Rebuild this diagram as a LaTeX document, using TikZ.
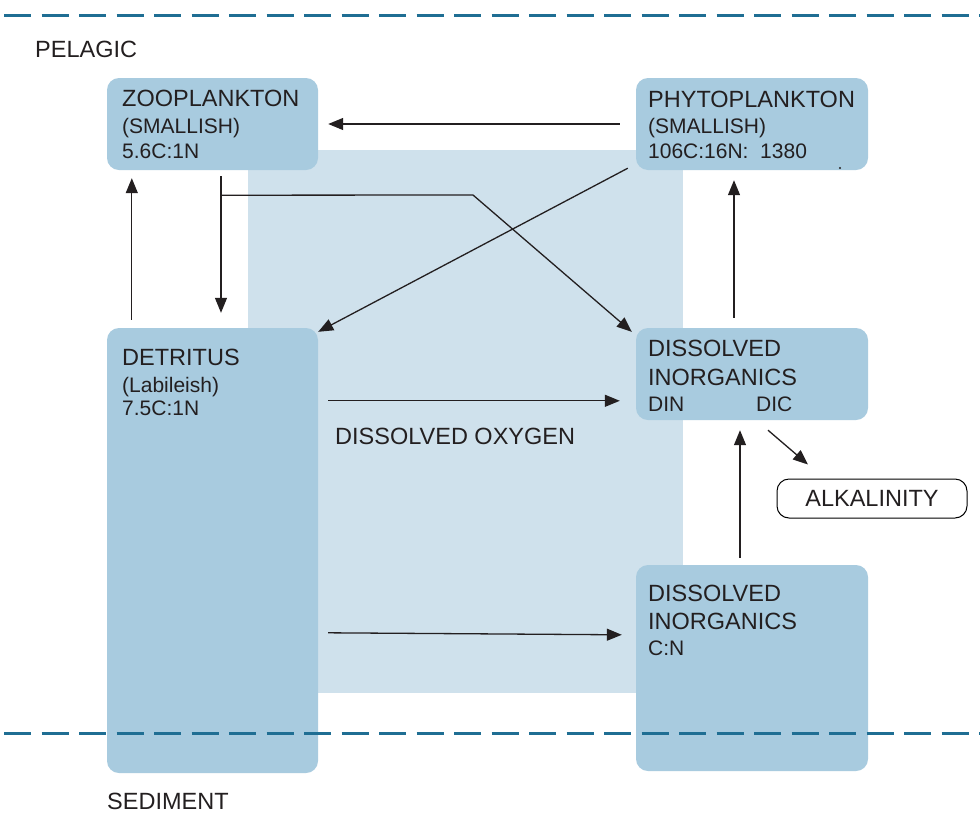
\documentclass[tikz,border=0pt]{standalone}
\usepackage{fontspec}
\setmainfont{Liberation Sans}
\usetikzlibrary{arrows.meta}
\definecolor{boxblue}{HTML}{A8CBDF}
\definecolor{paleblue}{HTML}{CFE1EC}
\definecolor{layerline}{HTML}{1F6E93}
\definecolor{inktext}{HTML}{231F20}
\begin{document}
\begin{tikzpicture}[x=1pt,y=-1pt,
  pool/.style={draw=none,fill=boxblue,rounded corners=12pt,inner sep=0pt},
  outline/.style={draw=black,line width=1pt,fill=white,rounded corners=12pt,inner sep=0pt},
  title/.style={anchor=base west,inner sep=0pt,text=inktext,font=\fontsize{23.5}{28}\selectfont},
  sub/.style={anchor=base west,inner sep=0pt,text=inktext,font=\fontsize{21}{25}\selectfont},
  flow/.style={draw=inktext,line width=1.3pt,-{Triangle[length=15pt,width=12pt]}},
  layer/.style={draw=layerline,line width=3pt,dash pattern=on 27pt off 10.5pt}]
\useasboundingbox (0,0) rectangle (980,812);
\fill[white] (0,0) rectangle (980,812);

% water column backdrop
\fill[paleblue] (248,150) rectangle (683,693);

% compartments
\node[pool,minimum width=211pt,minimum height=92pt] (zoo) at (212.5,124) {};
\node[pool,minimum width=232pt,minimum height=92pt] (phyto) at (752,124) {};
\node[pool,minimum width=211pt,minimum height=445pt] (det) at (212.5,550.5) {};
\node[pool,minimum width=232pt,minimum height=92pt] (dinTop) at (752,374) {};
\node[pool,minimum width=232pt,minimum height=206pt] (dinBot) at (752,668) {};
\node[outline,minimum width=190pt,minimum height=39pt,font=\fontsize{23.5}{28}\selectfont,text=inktext] (alk) at (872,498.5) {ALKALINITY};

% layer boundaries
\draw[layer,dash phase=-4pt] (0,15) -- (980,15);
\draw[layer,dash phase=-4pt] (0,733) -- (980,733);

% labels
\node[title] (pel) at (35,57) {PELAGIC};
\node[title] (sed) at (107,809) {SEDIMENT};
\node[title] (oxy) at (335,444) {DISSOLVED OXYGEN};

\node[title] (zooA) at (122,106) {ZOOPLANKTON};
\node[sub] (zooB) at (122,133) {(SMALLISH)};
\node[sub] (zooC) at (122,158) {5.6C:1N};

\node[title] (phyA) at (648,107) {PHYTOPLANKTON};
\node[sub] (phyB) at (648,133) {(SMALLISH)};
\node[sub] (phyC) at (648,158) {106C:16N:\ \ 1380};
\fill[inktext] (840,168) circle (1.1pt);

\node[title] (detA) at (122,365) {DETRITUS};
\node[sub] (detB) at (122,392) {(Labileish)};
\node[sub] (detC) at (122,415) {7.5C:1N};

\node[title] (dtA) at (648,356) {DISSOLVED};
\node[title] (dtB) at (648,385) {INORGANICS};
\node[sub] (dtC) at (648,411) {DIN};
\node[sub] (dtD) at (756,411) {DIC};

\node[title] (dbA) at (648,601) {DISSOLVED};
\node[title] (dbB) at (648,629) {INORGANICS};
\node[sub] (dbC) at (648,655) {C:N};

% fluxes
\draw[flow] ([xshift=-16pt]phyto.west) -- ([xshift=10pt]zoo.east);
\draw[flow] ([xshift=8.5pt,yshift=-6pt]zoo.south) -- ([xshift=8.5pt,yshift=15pt]det.north);
\draw[flow] ([xshift=25pt,yshift=8pt]det.north west) -- ([xshift=25pt,yshift=-8pt]zoo.south west);
\coordinate (split) at ([xshift=8.5pt,yshift=-25pt]zoo.south);
\coordinate (bend) at (473,195);
\draw[flow] (split) -- (bend) -- ([xshift=-4pt,yshift=-4pt]dinTop.north west);
\draw[flow] ([xshift=-8pt,yshift=2pt]phyto.south west) -- ([yshift=-4pt]det.north east);
\draw[flow] ([xshift=-18pt,yshift=10pt]dinTop.north) -- ([xshift=-18pt,yshift=-10pt]phyto.south);
\draw[flow] ([xshift=10pt,yshift=-73pt]det.north east) -- ([xshift=-16pt,yshift=-73pt]dinTop.north west);
\draw[flow] ([xshift=-12pt,yshift=7pt]dinBot.north) -- ([xshift=-12pt,yshift=-10pt]dinTop.south);
\draw[flow] ([xshift=16pt,yshift=-10pt]dinTop.south) -- ([xshift=-64pt,yshift=14pt]alk.north);
\draw[flow] ([xshift=10pt,yshift=-305pt]det.north east) -- ([xshift=-14pt,yshift=-70pt]dinBot.north west);
\end{tikzpicture}
\end{document}
